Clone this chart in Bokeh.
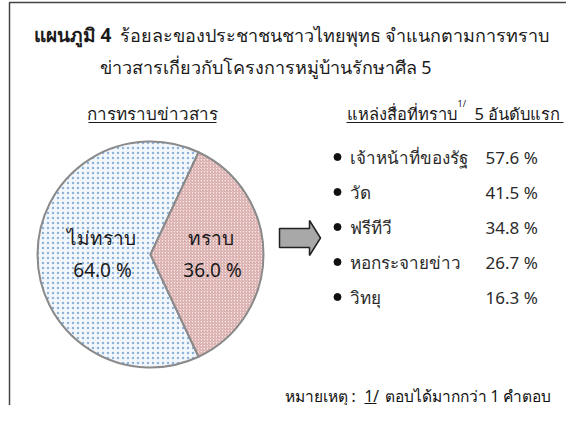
from bokeh.plotting import figure
from bokeh.models import Range1d
from bokeh.core.properties import value
from bokeh.embed import file_html
from bokeh.resources import INLINE
import numpy as np

# ---- data ----
pie_labels = ["ทราบ", "ไม่ทราบ"]
pie_values = [36.0, 64.0]
source_names = ["เจ้าหน้าที่ของรัฐ", "วัด", "ฟรีทีวี", "หอกระจายข่าว", "วิทยุ"]
source_values = [57.6, 41.5, 34.8, 26.7, 16.3]

FONT = "Noto Sans"
W, H = 566, 405
OX, OY = 8, 8  # page margin: reference pixel -> data coords

p = figure(width=W, height=H, output_backend="svg", toolbar_location=None,
           x_range=Range1d(0, W), y_range=Range1d(H, 0), min_border=0)
p.axis.visible = False
p.grid.visible = False
p.outline_line_color = None
p.background_fill_color = "white"

def X(x): return x - OX
def Y(y): return y - OY

TXT = "#1a1a1a"

# frame lines (left and top)
p.line([X(17), X(17), W], [H, Y(10), Y(10)], line_color="#444444", line_width=1.5)

# title
p.text([X(41)], [Y(42)], text=["แผนภูมิ 4"], text_font=value(FONT), text_font_size="19px",
       text_font_style="bold", text_baseline="middle", text_color=TXT)
p.text([X(127)], [Y(42)], text=["ร้อยละของประชาชนชาวไทยพุทธ  จำแนกตามการทราบ"], text_font=value(FONT),
       text_font_size="18px", text_baseline="middle", text_color=TXT)
p.text([X(107)], [Y(74)], text=["ข่าวสารเกี่ยวกับโครงการหมู่บ้านรักษาศีล 5"], text_font=value(FONT),
       text_font_size="18px", text_baseline="middle", text_color=TXT)

# pie
cx, cy, r = X(158), Y(262), 113
frac = np.array(pie_values) / sum(pie_values)
half = frac[0] * np.pi
starts = [-half, half]
ends = [half, 2 * np.pi - half]
p.wedge(x=cx, y=cy, radius=r, start_angle=starts[1], end_angle=ends[1],
        fill_color="#f3f7fc", line_color="#8a8a8a", line_width=2,
        hatch_pattern="dot", hatch_color="#8db2dc", hatch_scale=5, hatch_weight=1.0)
p.wedge(x=cx, y=cy, radius=r, start_angle=starts[0], end_angle=ends[0],
        fill_color="#f6e4e4", line_color="#8a8a8a", line_width=2,
        hatch_pattern="right_diagonal_line", hatch_color="#c07c7c", hatch_scale=3, hatch_weight=0.7)

# pie labels
p.text([X(109), X(218)], [Y(245), Y(245)], text=[pie_labels[1], pie_labels[0]], text_font=value(FONT),
       text_font_size="19px", text_align="center", text_baseline="middle", text_color=TXT)
p.text([X(110), X(220)], [Y(277), Y(277)], text=[f"{pie_values[1]:.1f} %", f"{pie_values[0]:.1f} %"],
       text_font=value(FONT), text_font_size="19px", text_align="center", text_baseline="middle",
       text_color=TXT)

# sub headings
p.text([X(160)], [Y(121)], text=["การทราบข่าวสาร"], text_font=value(FONT), text_font_size="17px",
       text_align="center", text_baseline="middle", text_color=TXT)
p.line([X(96), X(224)], [Y(130), Y(130)], line_color=TXT, line_width=1)

p.text([X(354)], [Y(121)], text=["แหล่งสื่อที่ทราบ"], text_font=value(FONT), text_font_size="16.5px",
       text_baseline="middle", text_color=TXT)
p.text([X(465)], [Y(111)], text=["1/"], text_font=value(FONT), text_font_size="9px",
       text_baseline="middle", text_color=TXT)
p.text([X(482)], [Y(121)], text=["5 อันดับแรก"], text_font=value(FONT), text_font_size="16.5px",
       text_baseline="middle", text_color=TXT)
p.line([X(354), X(571)], [Y(130), Y(130)], line_color=TXT, line_width=1)

# arrow
ax0, ax1, ax2 = X(287), X(317), X(328)
ay_top, ay_bot, ah_top, ah_bot = Y(236), Y(255), Y(228), Y(263)
amid = (ah_top + ah_bot) / 2
p.patch([ax0, ax1, ax1, ax2, ax1, ax1, ax0], [ay_top, ay_top, ah_top, amid, ah_bot, ay_bot, ay_bot],
        fill_color="#a8a8a8", line_color="#222222", line_width=1.5)

# list
ys = [Y(164.5) + i * 35 for i in range(len(source_names))]
p.scatter([X(345)] * len(ys), ys, size=7, color="#111111")
p.text([X(357)] * len(ys), ys, text=source_names, text_font=value(FONT), text_font_size="17px",
       text_baseline="middle", text_color="#2a2a2a")
p.text([X(493)] * len(ys), ys, text=[f"{v:.1f} %" for v in source_values], text_font=value(FONT),
       text_font_size="17px", text_baseline="middle", text_color="#2a2a2a")

# note
p.text([X(292)], [Y(403)], text=["หมายเหตุ :"], text_font=value(FONT), text_font_size="15.5px",
       text_baseline="middle", text_color="#111111")
p.text([X(372)], [Y(403)], text=["1/"], text_font=value(FONT), text_font_size="15.5px",
       text_baseline="middle", text_color="#111111")
p.line([X(372), X(384)], [Y(411), Y(411)], line_color="#111111", line_width=1)
p.text([X(392)], [Y(403)], text=["ตอบได้มากกว่า 1 คำตอบ"], text_font=value(FONT), text_font_size="15.5px",
       text_baseline="middle", text_color="#111111")

open("out.html", "w").write(file_html(p, INLINE))
